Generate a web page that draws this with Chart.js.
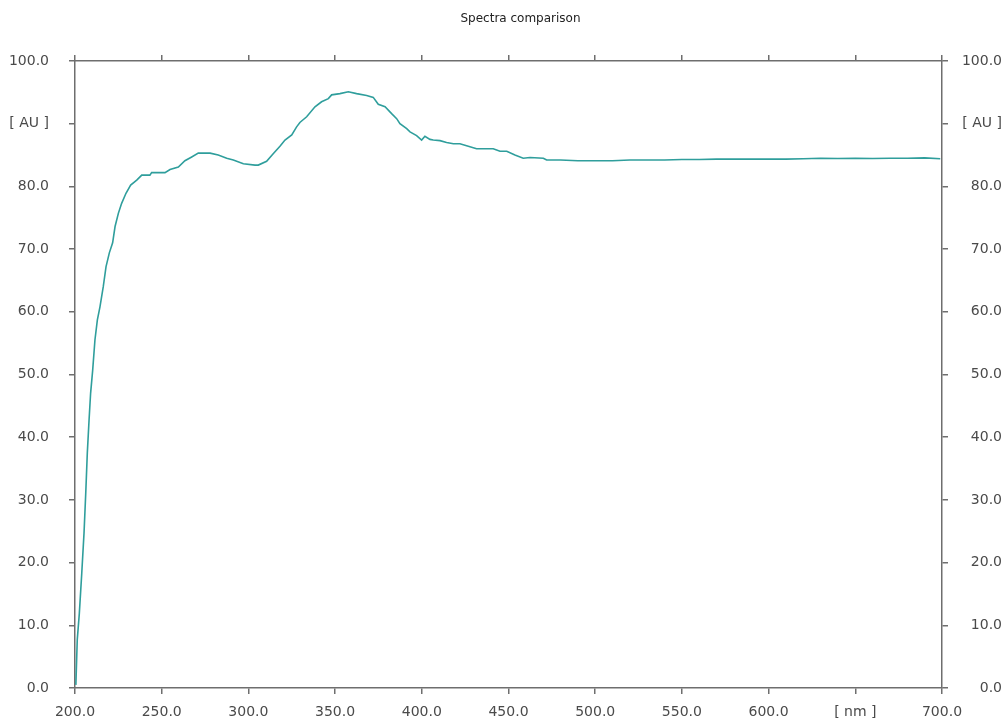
<!DOCTYPE html>
<html>
<head>
<meta charset="utf-8">
<title>Spectra comparison</title>
<script src="https://cdn.jsdelivr.net/npm/chart.js@4/dist/chart.umd.min.js"></script>
<style>
  html, body { margin: 0; padding: 0; background: #ffffff; }
  #wrap { width: 1007px; height: 719px; }
</style>
</head>
<body>
<div id="wrap"><canvas id="spectrum" width="1007" height="719"></canvas></div>
<script>
// Wavelength axis (nm) and measured absorbance (AU)
const wavelengths = [
  200.5, 201.3, 202.5, 203.9, 205.2, 206.2, 207.1, 208.1, 209.0, 210.2,
  211.5, 212.9, 214.4, 216.3, 217.9, 219.8, 221.7, 223.1, 225.0, 226.9,
  229.4, 232.1, 235.6, 238.5, 243.2, 244.2, 251.9, 254.8, 259.6, 263.4,
  267.3, 271.1, 277.9, 282.6, 287.5, 291.3, 297.1, 303.8, 305.7, 310.5,
  314.3, 318.2, 321.1, 325.0, 327.8, 329.7, 333.6, 338.4, 342.2, 346.1,
  348.0, 352.8, 357.6, 362.4, 368.2, 372.0, 374.9, 378.8, 382.6, 385.5,
  387.4, 391.3, 393.2, 397.0, 399.9, 401.8, 404.7, 406.6, 410.5, 414.3,
  418.2, 422.0, 426.8, 431.6, 441.2, 445.1, 449.0, 453.7, 458.5, 462.4,
  470.1, 472.0, 480.0, 490.0, 500.0, 510.0, 520.0, 530.0, 540.0, 550.0,
  560.0, 570.0, 580.0, 590.0, 600.0, 610.0, 620.0, 630.0, 640.0, 650.0,
  660.0, 670.0, 680.0, 690.0, 699.0
];
const absorbance = [
  0.5, 7.7, 11.9, 18.3, 24.7, 31.1, 37.5, 42.7, 47.0, 50.7,
  55.5, 58.7, 60.8, 64.0, 67.2, 69.4, 71.0, 73.6, 75.7, 77.3,
  78.9, 80.2, 81.0, 81.8, 81.8, 82.2, 82.2, 82.7, 83.1, 84.1,
  84.7, 85.3, 85.3, 85.0, 84.5, 84.2, 83.6, 83.4, 83.4, 84.0,
  85.2, 86.4, 87.4, 88.2, 89.5, 90.2, 91.1, 92.7, 93.5, 94.0,
  94.6, 94.8, 95.1, 94.8, 94.5, 94.2, 93.1, 92.7, 91.6, 90.8,
  90.0, 89.2, 88.7, 88.1, 87.4, 88.0, 87.5, 87.4, 87.3, 87.0,
  86.8, 86.8, 86.4, 86.0, 86.0, 85.6, 85.6, 85.0, 84.5, 84.6,
  84.5, 84.2, 84.2, 84.1, 84.1, 84.1, 84.2, 84.2, 84.2, 84.3,
  84.3, 84.35, 84.35, 84.35, 84.35, 84.35, 84.4, 84.5, 84.45, 84.5,
  84.45, 84.5, 84.5, 84.55, 84.4
];

// Axis ranges, tick spacing and the unit labels that replace one tick each
const xRange = [200, 700];
const xStep = 50;
const xUnitTick = 650;
const xUnitLabel = '[ nm ]';
const yRange = [0, 100];
const yStep = 10;
const yUnitTick = 90;
const yUnitLabel = '[ AU ]';
const titleText = 'Spectra comparison';

const axisColor = '#6e6e6e';
const labelColor = '#4a4a4a';
const lineColor = '#2f9e9c';
const tickFont = { family: 'DejaVu Sans', size: 14 };

const points = wavelengths.map((w, i) => ({ x: w, y: absorbance[i] }));

const xLabel = v => (Math.abs(v - xUnitTick) < 1e-6 ? xUnitLabel : Number(v).toFixed(1));
const yLabel = v => (Math.abs(v - yUnitTick) < 1e-6 ? yUnitLabel : Number(v).toFixed(1));

const frameGrid = { drawOnChartArea: false, color: axisColor, lineWidth: 1.5, tickLength: 6, tickWidth: 1.5, tickColor: axisColor };
const frameBorder = { display: true, color: axisColor, width: 1.5 };

// Title drawn above the plot frame, centred a little right of the plot middle
const titlePlugin = {
  id: 'spectraTitle',
  afterDraw(chart) {
    const { ctx, chartArea } = chart;
    ctx.save();
    ctx.font = '12px "DejaVu Sans"';
    ctx.fillStyle = '#222222';
    ctx.textAlign = 'center';
    ctx.textBaseline = 'middle';
    ctx.fillText(titleText, (chartArea.left + chartArea.right) / 2 + 12, chartArea.top - 42);
    ctx.restore();
  }
};

new Chart(document.getElementById('spectrum'), {
  type: 'line',
  data: {
    datasets: [{
      data: points,
      borderColor: lineColor,
      borderWidth: 1.6,
      pointRadius: 0,
      tension: 0,
      fill: false,
      xAxisID: 'x',
      yAxisID: 'y'
    }]
  },
  plugins: [titlePlugin],
  options: {
    responsive: false,
    devicePixelRatio: 1,
    animation: false,
    layout: { padding: { left: 0, right: 5, top: 56, bottom: 0 } },
    plugins: {
      legend: { display: false },
      tooltip: { enabled: false },
      title: { display: false }
    },
    scales: {
      x: {
        type: 'linear', position: 'bottom', min: xRange[0], max: xRange[1],
        ticks: { stepSize: xStep, callback: xLabel, color: labelColor, font: tickFont, padding: 10, maxRotation: 0, autoSkip: false },
        grid: frameGrid, border: frameBorder,
        afterFit: s => { s.height = 31; }
      },
      xTop: {
        type: 'linear', position: 'top', min: xRange[0], max: xRange[1],
        ticks: { stepSize: xStep, display: false },
        grid: frameGrid, border: frameBorder,
        afterFit: s => { s.height = 5; }
      },
      y: {
        type: 'linear', position: 'left', min: yRange[0], max: yRange[1],
        ticks: { stepSize: yStep, callback: yLabel, color: labelColor, font: tickFont, padding: 20 },
        grid: frameGrid, border: frameBorder,
        afterFit: s => { s.width = 75; }
      },
      yRight: {
        type: 'linear', position: 'right', min: yRange[0], max: yRange[1],
        ticks: { stepSize: yStep, callback: yLabel, color: labelColor, font: tickFont, padding: 17, crossAlign: 'far' },
        grid: frameGrid, border: frameBorder,
        afterFit: s => { s.width = 60; }
      }
    }
  }
});
</script>
</body>
</html>
